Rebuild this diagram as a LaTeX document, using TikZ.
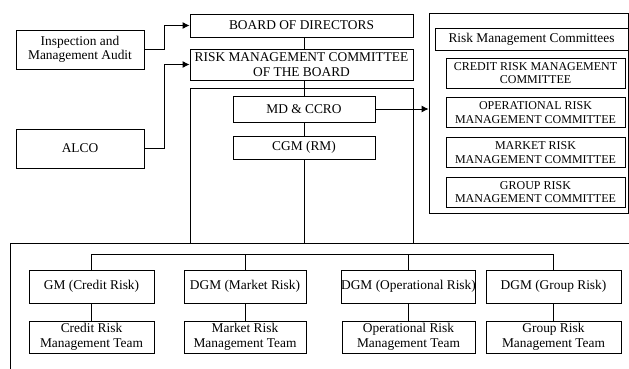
\documentclass[tikz,border=0pt]{standalone}
\usepackage{fontspec}
\setmainfont{Liberation Serif}
\usetikzlibrary{arrows.meta}

\begin{document}
\begin{tikzpicture}[x=1pt, y=-1pt,
    box/.style={draw, line width=0.9pt, align=center, inner sep=0pt,
        font=\fontsize{13.4}{14.5}\selectfont},
    small/.style={font=\fontsize{12}{13.8}\selectfont},
    frame/.style={draw, line width=0.8pt, inner sep=0pt},
    link/.style={line width=0.9pt},
    feed/.style={line width=0.9pt, -{Latex[length=7pt,width=7pt]}}]
    \useasboundingbox (0,0) rectangle (629,369);

    \node[box, minimum width=128, minimum height=39] (insp) at (80,49.5) {Inspection and\\Management Audit};
    \node[box, minimum width=128, minimum height=39] (alco) at (80,148.5) {ALCO};

    \node[box, minimum width=223, minimum height=23] (board) at (301.5,25.5) {BOARD OF DIRECTORS};
    \node[box, minimum width=223, minimum height=31] (rmcb) at (301.5,64.5) {RISK MANAGEMENT COMMITTEE\\OF THE BOARD};
    \node[frame, minimum width=223, minimum height=155] (exec) at (301.5,165.5) {};
    \node[box, minimum width=142, minimum height=26] (md) at (304,109) {MD \& CCRO};
    \node[box, minimum width=142, minimum height=23] (cgm) at (304,147.5) {CGM (RM)};

    \node[frame, minimum width=199, minimum height=200] (rmc) at (528.5,113) {};
    \node[box, minimum width=193, minimum height=22] (rmchead) at (531.5,39) {Risk Management Committees};
    \foreach \txt [count=\i] in {{CREDIT RISK MANAGEMENT\\COMMITTEE}, {OPERATIONAL RISK\\MANAGEMENT COMMITTEE},
            {MARKET RISK\\MANAGEMENT COMMITTEE}, {GROUP RISK\\MANAGEMENT COMMITTEE}} {
        \node[box, small, minimum width=179, minimum height=30] (c\i) at (535.5, 33.3+\i*39.7) {\txt};
    }

    \draw[frame] (10,369) -- (10,243) -- (629,243);
    \foreach \x/\w/\head/\team [count=\i] in {
            91.5/125/{GM (Credit Risk)}/{Credit Risk\\Management Team},
            245/122/{DGM (Market Risk)}/{Market Risk\\Management Team},
            408.5/133/{DGM (Operational Risk)}/{Operational Risk\\Management Team},
            553.5/135/{DGM (Group Risk)}/{Group Risk\\Management Team}} {
        \node[box, minimum width=\w, minimum height=33] (h\i) at (\x,286.5) {\head};
        \node[box, minimum width=\w, minimum height=32] (t\i) at (\x,337) {\team};
        \draw[link] (h\i.south) -- (t\i.north);
    }

    \coordinate (bus) at (0,254);
    \draw[link] (h1.north) -- (h1.north |- bus) -- (h4.north |- bus) -- (h4.north);
    \foreach \n in {h2,h3}
        \draw[link] (\n.north) -- (\n.north |- bus);

    \draw[link] (md.north |- board.south) -- (md.north |- rmcb.north);
    \draw[link] (md.north |- rmcb.south) -- (md.north);
    \draw[link] (md.south) -- (cgm.north);
    \draw[link] (cgm.south) -- (cgm.south |- exec.south);

    \draw[feed] (insp.east) -- ++(20,0) |- (board.west);
    \draw[feed] (alco.east) -- ++(20,0) |- (rmcb.west);
    \draw[feed] (md.east) -- (md.east -| rmc.west);
\end{tikzpicture}
\end{document}
